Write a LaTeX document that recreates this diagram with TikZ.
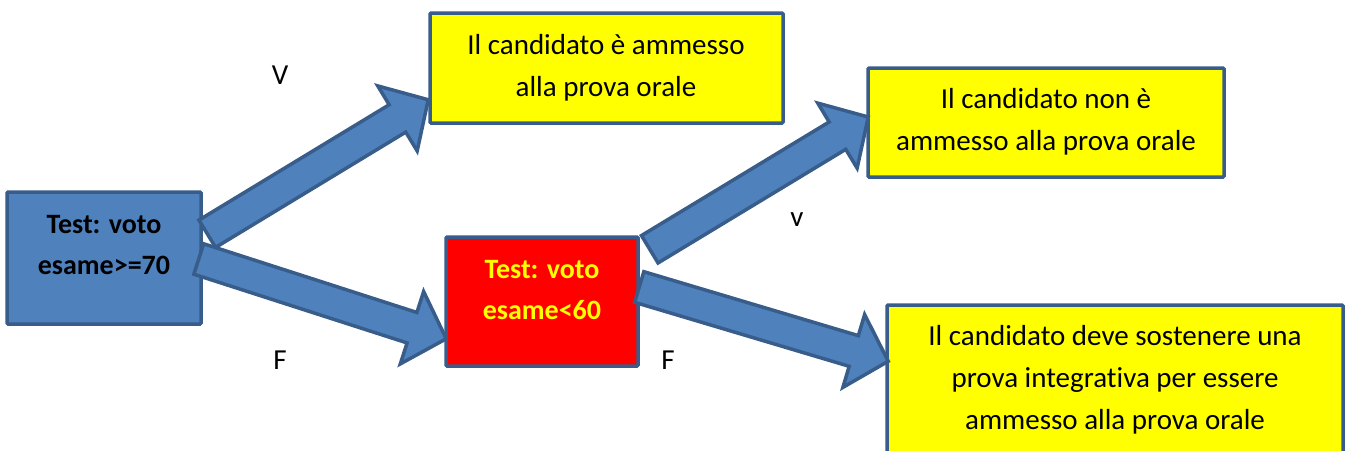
\documentclass[tikz,border=0pt]{standalone}
\usepackage{fontspec}
\setmainfont[Ligatures=NoCommon]{Carlito}
\usetikzlibrary{calc}
\definecolor{ofblue}{HTML}{4F81BD}
\definecolor{ofline}{HTML}{385D8A}
\definecolor{ofyellow}{HTML}{FFFF00}
\definecolor{ofred}{HTML}{FF0000}
\newcommand\myblockarrow[2]{%
  \coordinate (tmpb) at ($(#2)!36pt!(#1)$);
  \draw[arrowsty] ($(#1)!16pt!90:(#2)$) -- ($(tmpb)!16pt!90:(#2)$) -- ($(tmpb)!38pt!90:(#2)$) -- (#2)
    -- ($(tmpb)!38pt!-90:(#2)$) -- ($(tmpb)!16pt!-90:(#2)$) -- ($(#1)!16pt!-90:(#2)$) -- cycle;}
\tikzset{
  box/.style={draw=ofline, line width=3.5pt, rectangle, inner sep=0pt, rounded corners=1pt},
  ybox/.style={box, fill=ofyellow},
  txt/.style={align=center, inner sep=0pt, font=\fontsize{29}{42}\selectfont},
  btxt/.style={txt, font=\fontsize{28}{41}\selectfont\bfseries},
  lbl/.style={inner sep=0pt, font=\fontsize{29}{35}\selectfont},
  arrowsty/.style={draw=ofline, fill=ofblue, line width=3.5pt, line join=miter}
}
\begin{document}
\begin{tikzpicture}[x=1pt,y=-1pt]
\useasboundingbox (0,0) rectangle (1346,450);
\clip (0,0) rectangle (1346,450);
% boxes
\node[box, fill=ofblue, minimum width=194pt, minimum height=132pt] (b1) at (104,258) {};
\node[ybox, minimum width=353pt, minimum height=110pt] (y1) at (606.5,68) {};
\node[ybox, minimum width=356pt, minimum height=109pt] (y2) at (1046,122.5) {};
\node[box, fill=ofred, minimum width=192pt, minimum height=129pt] (r1) at (542,301.5) {};
\node[ybox, minimum width=456pt, minimum height=180pt] (y3) at (1115,395) {};
% texts
\node[btxt] (t1) at (104,245) {Test: voto\\esame>=70};
\node[txt] (t2) at (606,68) {Il candidato è ammesso\\alla prova orale};
\node[txt] (t3) at (1046,122) {Il candidato non è\\ammesso alla prova orale};
\node[btxt, text=ofyellow] (t4) at (542,290) {Test: voto\\esame<60};
\node[txt] (t5) at (1115,380) {Il candidato deve sostenere una\\prova integrativa per essere\\ammesso alla prova orale};
% labels
\node[lbl] (lv1) at (280,75) {V};
\node[lbl] (lf1) at (280,360) {F};
\node[lbl] (lv2) at (797,220) {v};
\node[lbl] (lf2) at (668,360) {F};
% arrow ends
\coordinate (a1s) at ($(b1.north east)+(4.5,43.5)$);
\coordinate (a1e) at ($(y1.south west)+(0,-25)$);
\coordinate (a2s) at ($(b1.east)+(-4,1)$);
\coordinate (a2e) at ($(r1.south west)+(2,-29)$);
\coordinate (a3s) at ($(r1.north east)+(10,14)$);
\coordinate (a3e) at ($(y2.west)+(2,-5.5)$);
\coordinate (a4s) at ($(r1.east)+(-0.5,-14.5)$);
\coordinate (a4e) at ($(y3.north west)+(3,58)$);
\myblockarrow{a1s}{a1e}
\myblockarrow{a2s}{a2e}
\myblockarrow{a3s}{a3e}
\myblockarrow{a4s}{a4e}
\end{tikzpicture}
\end{document}
